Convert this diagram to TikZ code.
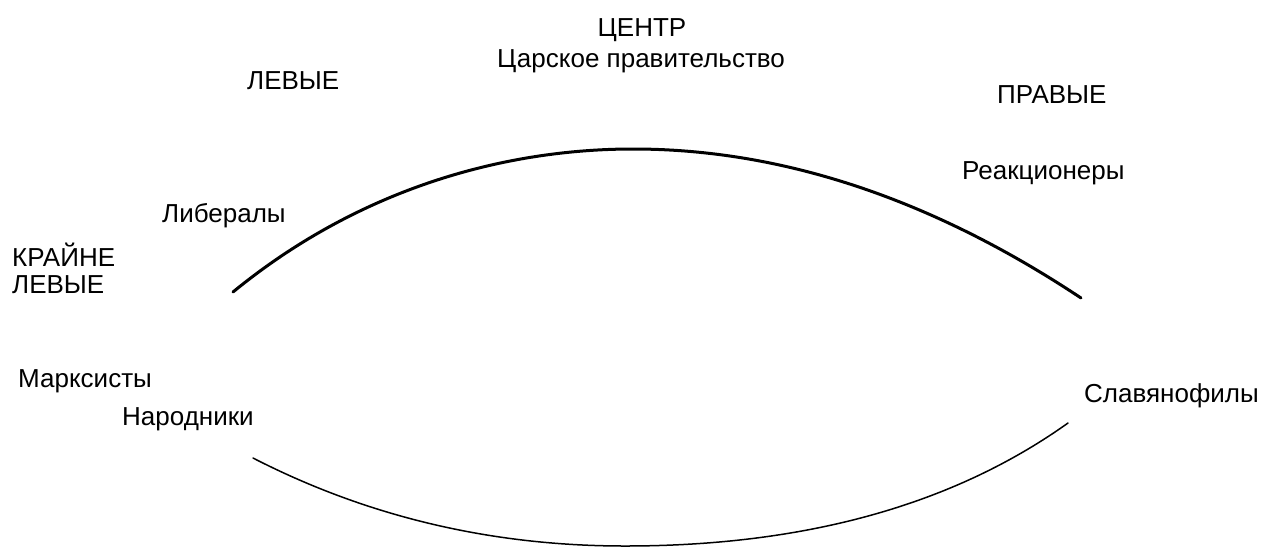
\documentclass[tikz,border=0pt]{standalone}
\usepackage{fontspec}
\setmainfont{Liberation Sans}
\begin{document}
\begin{tikzpicture}[x=1pt,y=-1pt,
  lbl/.style={inner sep=0pt,anchor=base west,font=\fontsize{26}{30}\selectfont},
  toparc/.style={line width=3pt,line cap=round},
  botarc/.style={line width=1.5pt,line cap=round}]
\useasboundingbox[fill=white] (0,0) rectangle (1261,547);
\node[lbl,anchor=base] (centr) at (642,36) {ЦЕНТР};
\node[lbl] (tsar) at (497,67) {Царское правительство};
\node[lbl] (levye) at (247,89) {ЛЕВЫЕ};
\node[lbl] (pravye) at (997,103) {ПРАВЫЕ};
\node[lbl] (reak) at (962,179) {Реакционеры};
\node[lbl] (liber) at (162,222) {Либералы};
\node[lbl] (krayne) at (12,266) {КРАЙНЕ};
\node[lbl] (klevye) at (12,293) {ЛЕВЫЕ};
\node[lbl] (marks) at (18,387) {Марксисты};
\node[lbl] (narod) at (122,425) {Народники};
\node[lbl] (slav) at (1084,402) {Славянофилы};
\coordinate (tl) at (233,292);
\coordinate (tm) at (633,149);
\coordinate (tr) at (1081,298);
\coordinate (bl) at (253,458);
\coordinate (bm) at (625,546);
\coordinate (br) at (1068,423);
\draw[toparc] (tl) .. controls (360,188) and (505,149) .. (tm)
  .. controls (782,149) and (932,199) .. (tr);
\draw[botarc] (bl) .. controls (368,517) and (492,546) .. (bm)
  .. controls (805,546) and (953,505) .. (br);
\end{tikzpicture}
\end{document}
